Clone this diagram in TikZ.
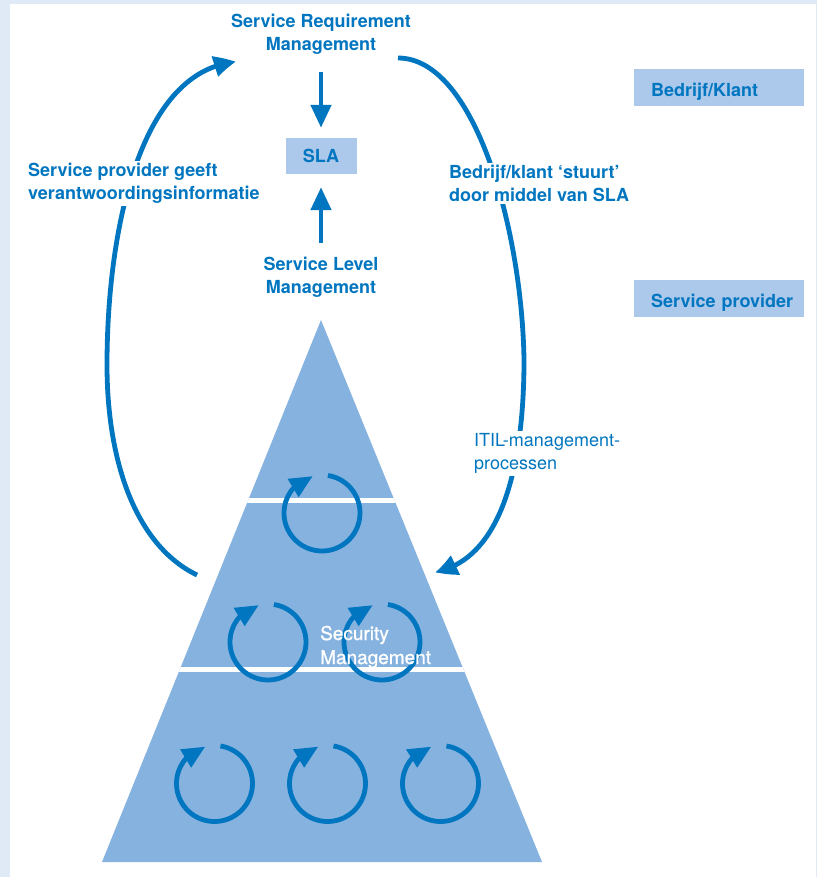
\documentclass[tikz,border=0pt]{standalone}
\usepackage{fontspec}
\setmainfont{TeX Gyre Heros}
\usetikzlibrary{arrows.meta,bending}
\definecolor{itilblue}{RGB}{0,118,192}
\definecolor{pyr}{RGB}{134,178,223}
\definecolor{boxfill}{RGB}{172,200,234}
\definecolor{framecol}{RGB}{224,234,246}
\pgfdeclarelayer{back}
\pgfdeclarelayer{arr}
\pgfsetlayers{back,arr,main}
\begin{document}
\begin{tikzpicture}[x=1pt,y=-1pt,
  lbl/.style={font=\fontsize{18}{23}\selectfont\bfseries, text=itilblue, inner sep=2pt},
  lblw/.style={lbl, fill=white},
  slabox/.style={lbl, fill=boxfill, minimum width=71pt, minimum height=36pt},
  sidebox/.style={lbl, fill=boxfill, text width=153pt, inner xsep=8.5pt, inner ysep=0pt, minimum height=37pt, text height=20pt, text depth=2pt, align=left, anchor=west},
  flow/.style={draw=itilblue, line width=4.8pt, -{Triangle[width=20pt,length=22pt,bend]}},
  straight/.style={draw=itilblue, line width=4.8pt, -{Triangle[width=20pt,length=23pt]}},
  cyc/.style={draw=itilblue, line width=4.8pt, -{Triangle[width=20pt,length=23pt,flex]}},
  rot/.pic={\draw[cyc] (-81:38) arc[start angle=-81, end angle=256, radius=38];}
]
\useasboundingbox (0,0) rectangle (817,877);
\begin{pgfonlayer}{back}
  \fill[framecol] (0,0) rectangle (817,877);
  \fill[white] (10,4) rectangle (815.5,877);
  \coordinate (apex) at (321,320);
  \coordinate (bl) at (102,862);
  \coordinate (br) at (542,862);
  \fill[pyr] (apex) -- (br) -- (bl) -- cycle;
  \begin{scope}
    \clip (apex) -- (br) -- (bl) -- cycle;
    \draw[white, line width=5pt] (80,500.5) -- (560,500.5);
    \draw[white, line width=5pt] (80,669) -- (560,669);
  \end{scope}
\end{pgfonlayer}

% labels
\node[lbl, align=center] (srm) at (321,34) {Service Requirement\\Management};
\node[slabox] (sla) at (321,156) {SLA};
\node[lbl, align=center] (slm) at (321,277) {Service Level\\Management};
\node[lblw, align=left, anchor=west] (spg) at (26,183.5) {Service provider geeft\\verantwoordingsinformatie};
\node[lblw, align=left, anchor=west] (bks) at (447,183.5) {Bedrijf/klant ‘stuurt’\\door middel van SLA};
\node[lblw, font=\fontsize{18}{23}\selectfont, align=left, anchor=west] (itil) at (472,453.5) {ITIL-management-\\processen};
\node[sidebox] (bk) at (634,87.5) {\hspace*{8.5pt}\mbox{Bedrijf/Klant}};
\node[sidebox] (sp) at (634,298.5) {\hspace*{8.5pt}\mbox{Service provider}};

% straight arrows
\draw[straight, shorten <=16pt, shorten >=10pt] (srm.south) -- (sla.north);
\draw[straight, shorten <=12pt, shorten >=13pt] (slm.north) -- (sla.south);

% big curved arrows
\coordinate (lstart) at (197,575);
\coordinate (lmid) at (107,365);
\coordinate (lend) at (236,62);
\coordinate (rstart) at (398,58);
\coordinate (rmid) at (524,360);
\coordinate (rend) at (435,572);
\begin{pgfonlayer}{arr}
  \draw[flow] (lstart) .. controls (135,545) and (107,460) .. (lmid)
                      .. controls (107,230) and (140,70) .. (lend);
  \draw[flow] (rstart) .. controls (475,58) and (522,230) .. (rmid)
                      .. controls (524,470) and (500,560) .. (rend);
\end{pgfonlayer}

% process cycles
\pic at (322,513) {rot};
\pic at (268,642) {rot};
\pic at (382,642) {rot};
\pic at (214.5,783.5) {rot};
\pic at (327.5,783.5) {rot};
\pic at (440.5,783.5) {rot};

\node[font=\fontsize{19}{24}\selectfont\addfontfeature{FakeBold=1}, text=white, align=left, anchor=west, inner sep=2pt] (sec) at (318,647) {Security\\Management};
\end{tikzpicture}
\end{document}
